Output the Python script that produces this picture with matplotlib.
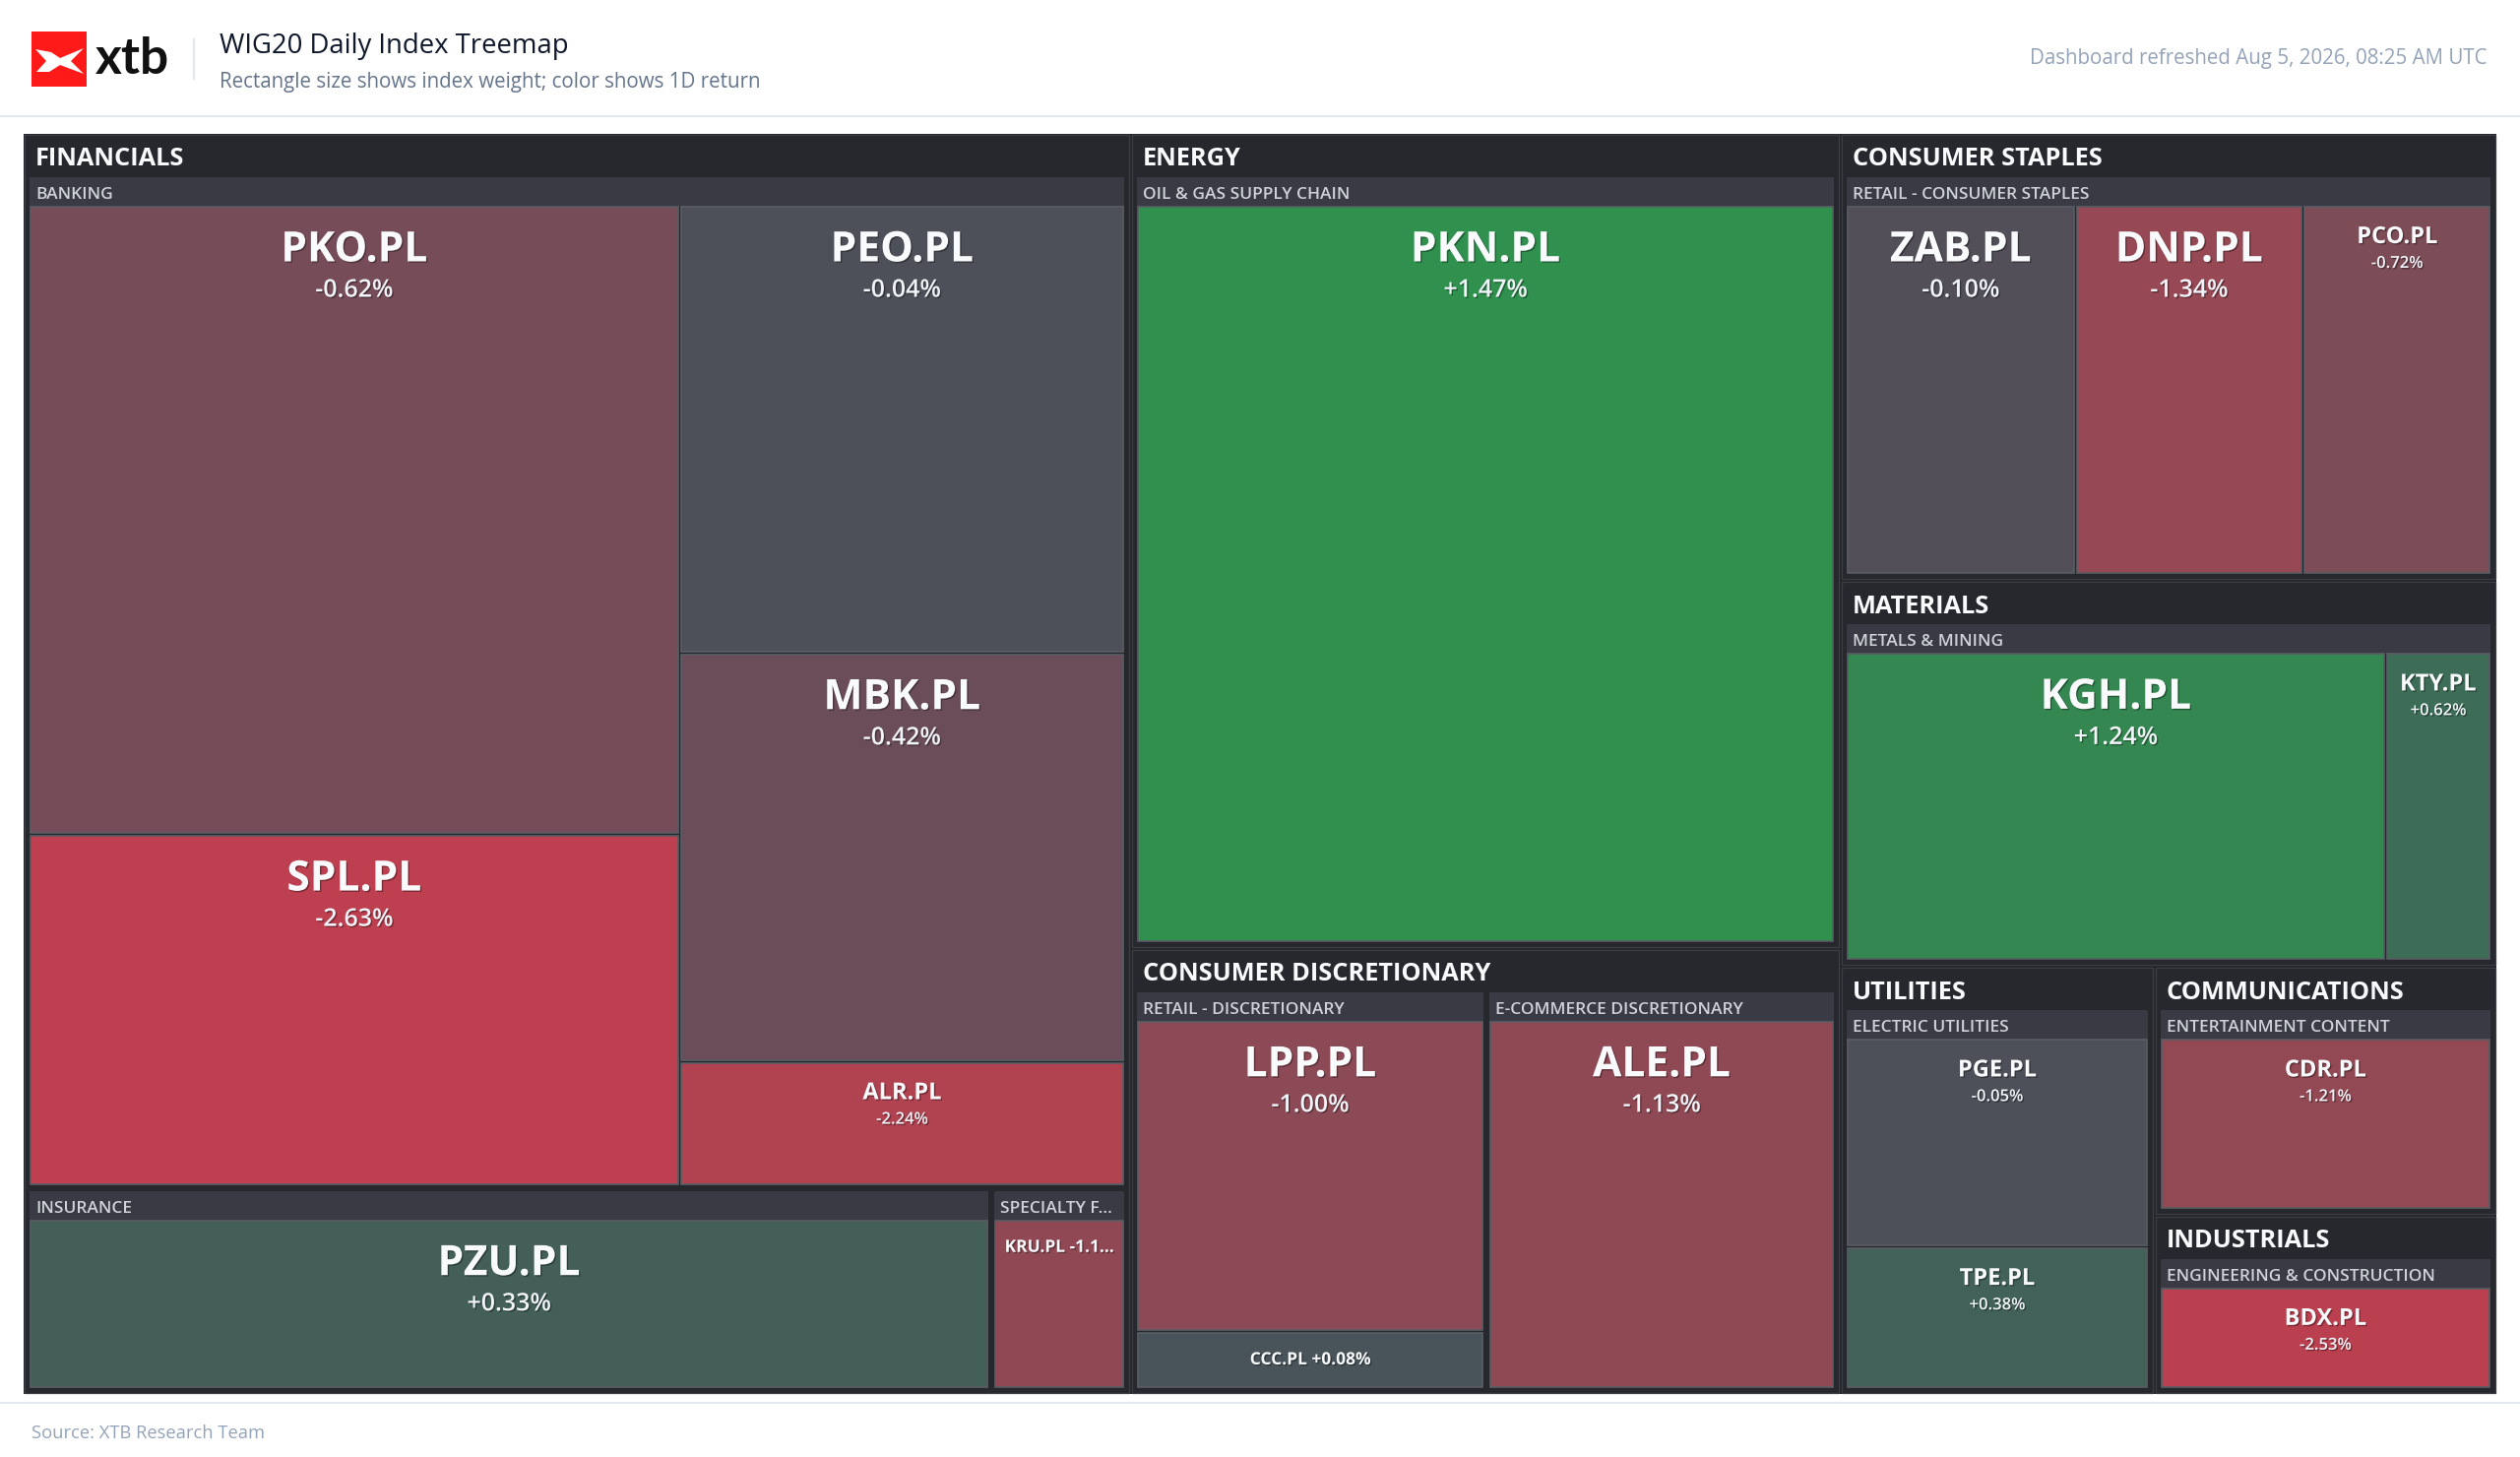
import matplotlib.pyplot as plt
import matplotlib.patches as mpatches
import matplotlib.patheffects as pe
import numpy as np

# WIG20 members: sector / industry / index weight (%) / 1D return (%)
tickers = ["PKO.PL", "PEO.PL", "SPL.PL", "MBK.PL", "ALR.PL", "PZU.PL", "KRU.PL",
           "PKN.PL", "LPP.PL", "CCC.PL", "ALE.PL", "ZAB.PL", "DNP.PL", "PCO.PL",
           "KGH.PL", "KTY.PL", "PGE.PL", "TPE.PL", "CDR.PL", "BDX.PL"]
sectors = ["FINANCIALS"] * 7 + ["ENERGY"] + ["CONSUMER DISCRETIONARY"] * 3 + \
          ["CONSUMER STAPLES"] * 3 + ["MATERIALS"] * 2 + ["UTILITIES"] * 2 + \
          ["COMMUNICATIONS", "INDUSTRIALS"]
industries = ["BANKING"] * 5 + ["INSURANCE", "SPECIALTY FINANCE",
              "OIL & GAS SUPPLY CHAIN",
              "RETAIL - DISCRETIONARY", "RETAIL - DISCRETIONARY", "E-COMMERCE DISCRETIONARY",
              "RETAIL - CONSUMER STAPLES", "RETAIL - CONSUMER STAPLES", "RETAIL - CONSUMER STAPLES",
              "METALS & MINING", "METALS & MINING",
              "ELECTRIC UTILITIES", "ELECTRIC UTILITIES",
              "ENTERTAINMENT CONTENT", "ENGINEERING & CONSTRUCTION"]
weights = [14.21, 6.92, 7.93, 6.31, 1.92, 6.55, 0.92,
           18.54, 4.30, 0.79, 5.06, 3.34, 3.33, 2.74,
           6.79, 1.33, 2.56, 1.74, 2.73, 1.97]
returns = [-0.62, -0.04, -2.63, -0.42, -2.24, 0.33, -1.15,
           1.47, -1.00, 0.08, -1.13, -0.10, -1.34, -0.72,
           1.24, 0.62, -0.05, 0.38, -1.21, -2.53]

# diverging colour scale for returns
scale_pts = [-3, -2, -1, -0.5, 0, 0.5, 1, 1.5, 3]
scale_r = [201, 170, 139, 112, 74, 63, 55, 48, 40]
scale_g = [60, 68, 74, 77, 80, 102, 125, 146, 200]
scale_b = [78, 81, 85, 89, 89, 88, 83, 79, 72]


def ret_color(r):
    return (np.interp(r, scale_pts, scale_r) / 255,
            np.interp(r, scale_pts, scale_g) / 255,
            np.interp(r, scale_pts, scale_b) / 255)


def squarify(values, x0, y0, x1, y1):
    # squarified treemap (ratio 1), rows / columns like d3
    rects = [None] * len(values)
    total = float(sum(values))
    n = len(values)
    i0 = 0
    while i0 < n:
        dx, dy = x1 - x0, y1 - y0
        s = mn = mx = values[i0]
        i1 = i0 + 1
        alpha = max(dy / dx, dx / dy) / total
        beta = s * s * alpha
        best = max(mx / beta, beta / mn)
        while i1 < n:
            v = values[i1]
            beta = (s + v) ** 2 * alpha
            r = max(max(mx, v) / beta, beta / min(mn, v))
            if r > best:
                break
            best = r
            s += v
            mn, mx = min(mn, v), max(mx, v)
            i1 += 1
        if dx < dy:
            h = dy * s / total
            xx = x0
            for k in range(i0, i1):
                w = dx * values[k] / s
                rects[k] = (xx, y0, xx + w, y0 + h)
                xx += w
            y0 += h
        else:
            w = dx * s / total
            yy = y0
            for k in range(i0, i1):
                h = dy * values[k] / s
                rects[k] = (x0, yy, x0 + w, yy + h)
                yy += h
            x0 += w
        total -= s
        i0 = i1
    return rects


def tile(keys, values, area, gap):
    order = sorted(range(len(keys)), key=lambda i: -values[i])
    x0, y0, x1, y1 = area
    g = gap / 2
    rects = squarify([values[i] for i in order], x0 - g, y0 - g, x1 + g, y1 + g)
    out = []
    for i, r in zip(order, rects):
        out.append((keys[i], (r[0] + g, r[1] + g, r[2] - g, r[3] - g)))
    return out


W, H = 2560, 1480
fig = plt.figure(figsize=(W / 100, H / 100), dpi=100)
fig.patch.set_facecolor("white")
ax = fig.add_axes([0, 0, 1, 1])
ax.set_xlim(0, W)
ax.set_ylim(H, 0)
ax.axis("off")
renderer = fig.canvas.get_renderer()
FONT = ["Open Sans", "DejaVu Sans"]


def fit_text(x, y, s, maxw, **kw):
    t = ax.text(x, y, s, family=FONT, **kw)
    if t.get_window_extent(renderer).width <= maxw:
        return t
    base = s
    while len(base) > 1:
        base = base[:-1]
        t.set_text(base.rstrip() + "...")
        if t.get_window_extent(renderer).width <= maxw:
            break
    return t


def rect(r, **kw):
    ax.add_patch(mpatches.Rectangle((r[0], r[1]), r[2] - r[0], r[3] - r[1], **kw))


# ---- header ----
ax.add_patch(mpatches.Rectangle((32, 32), 56, 56, facecolor="#ff1a1a", edgecolor="none"))
logo = [(36, 50), (52, 53), (61, 59), (85, 49), (72, 62), (85, 75), (61, 66), (50, 73), (37, 73), (47, 62)]
ax.add_patch(mpatches.Polygon(logo, closed=True, facecolor="white", edgecolor="none"))
ax.text(97, 75, "xtb", family=["Lato", "DejaVu Sans"], fontweight="bold", fontsize=37,
        color="#111111", va="baseline", ha="left")
ax.plot([197, 197], [40, 80], color="#e2e8f0", lw=1.5)
ax.text(223, 47, "WIG20 Daily Index Treemap", family=FONT, fontsize=19.8, color="#0f172a",
        va="center", ha="left")
ax.text(223, 84, "Rectangle size shows index weight; color shows 1D return", family=FONT,
        fontsize=14.8, color="#64748b", va="center", ha="left")
ax.text(2527, 59, "Dashboard refreshed Aug 5, 2026, 08:25 AM UTC", family=FONT, fontsize=14.8,
        color="#94a3b8", va="center", ha="right")
ax.plot([0, W], [118, 118], color="#e2e8f0", lw=1.5)
ax.plot([0, W], [1425, 1425], color="#e2e8f0", lw=1.5)
ax.text(32, 1456, "Source: XTB Research Team", family=FONT, fontsize=13.2, color="#94a3b8",
        va="center", ha="left")

# ---- treemap ----
root = (24, 136, 2536, 1416)
rect(root, facecolor="#26272b", edgecolor="none")

sector_names = list(dict.fromkeys(sectors))
sector_vals = [sum(w for w, s in zip(weights, sectors) if s == name) for name in sector_names]
shadow = [pe.withSimplePatchShadow(offset=(1, -1), shadow_rgbFace="black", alpha=0.35)]

for sname, sr in tile(sector_names, sector_vals, (root[0] + 1, root[1] + 1, root[2] - 1, root[3] - 1), 3):
    rect(sr, facecolor="#27282d", edgecolor="#3d3e44", lw=0.9)
    fit_text(sr[0] + 11, sr[1] + 25, sname, sr[2] - sr[0] - 20, fontsize=18.3, fontweight="bold",
             color="#f8fafc", va="center", ha="left")
    ind_names = list(dict.fromkeys(ind for ind, s in zip(industries, sectors) if s == sname))
    ind_vals = [sum(w for w, ind in zip(weights, industries) if ind == name) for name in ind_names]
    for iname, ir in tile(ind_names, ind_vals, (sr[0] + 5, sr[1] + 43, sr[2] - 5, sr[3] - 5), 6):
        rect((ir[0], ir[1], ir[2], ir[1] + 30), facecolor="#393a43", edgecolor="none")
        fit_text(ir[0] + 6, ir[1] + 18, iname, ir[2] - ir[0] - 12, fontsize=12.5,
                 fontweight="semibold", color="#cfd2d8", va="center", ha="left")
        idx = [i for i, ind in enumerate(industries) if ind == iname]
        leaf_vals = [weights[i] for i in idx]
        for i, lr in tile(idx, leaf_vals, (ir[0] + 1, ir[1] + 30, ir[2] - 1, ir[3] - 1), 3):
            rect(lr, facecolor=ret_color(returns[i]), edgecolor="#5a5d64", lw=1.2)
            w, h = lr[2] - lr[0], lr[3] - lr[1]
            cx = (lr[0] + lr[2]) / 2
            pct = f"{returns[i]:+.2f}%"
            area = w * h
            if area > 80000:
                fit_text(cx, lr[1] + 45, tickers[i], w - 16, fontsize=30.6, fontweight="bold",
                         color="#f8fafc", va="center", ha="center", path_effects=shadow)
                fit_text(cx, lr[1] + 85, pct, w - 16, fontsize=18, fontweight="semibold",
                         color="#f1f5f9", va="center", ha="center", path_effects=shadow)
            elif area > 28000:
                fit_text(cx, lr[1] + 31, tickers[i], w - 12, fontsize=17, fontweight="bold",
                         color="#f8fafc", va="center", ha="center", path_effects=shadow)
                fit_text(cx, lr[1] + 58, pct, w - 12, fontsize=12, fontweight="semibold",
                         color="#f1f5f9", va="center", ha="center", path_effects=shadow)
            else:
                fit_text(cx, lr[1] + 27, tickers[i] + " " + pct, w - 12, fontsize=12.5,
                         fontweight="bold", color="#f8fafc", va="center", ha="center",
                         path_effects=shadow)

fig.savefig("out.png", dpi=100, facecolor="white")
